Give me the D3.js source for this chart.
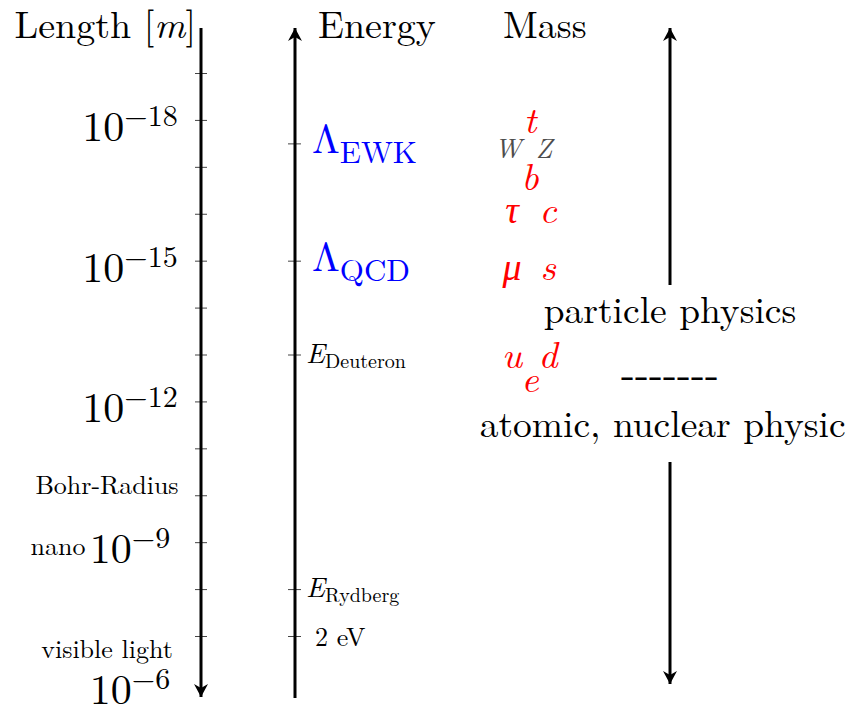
<!DOCTYPE html>
<html>
<head>
<meta charset="utf-8">
<script src="https://cdn.jsdelivr.net/npm/d3@7"></script>
<style>
  body { margin: 0; background: #fff; }
  text { font-family: "Latin Modern Roman", "Liberation Serif", serif; }
</style>
</head>
<body>
<div id="chart"></div>
<script>
// Length axis: exponents of the tick marks and of the labelled decades
var lengthTicks = [-19, -18, -17, -16, -15, -14, -13, -12, -11, -10, -9, -8, -7];
var lengthLabels = [-18, -15, -12, -9, -6];

// Notes next to the length axis, placed on the same log scale
var noteNames = ["Bohr-Radius", "nano", "visible light"];
var noteLevels = [-10.2, -8.9, -6.7];

// Energy axis ticks (in length exponent units) and their labels
var energyNames = ["EWK", "QCD", "Deuteron", "Rydberg", "2 eV"];
var energyLevels = [-17.5, -15, -13, -8, -7];

// Mass column: particle symbols, baseline level and column slot
var massNames = ["t", "W", "Z", "b", "τ", "c", "μ", "s", "u", "d", "e"];
var massLevels = [-17.72, -17.19, -17.19, -16.51, -15.8, -15.8, -14.59, -14.59, -12.71, -12.71, -12.2];
var massSlots = ["mid", "left", "right", "mid", "left", "right", "left", "right", "left", "right", "mid"];
var massKinds = ["fermion", "boson", "boson", "fermion", "fermion", "fermion", "fermion", "fermion", "fermion", "fermion", "fermion"];

var svgWidth = 845;
var svgHeight = 705;

var svg = d3.select("#chart")
    .append("svg")
    .attr("width", svgWidth)
    .attr("height", svgHeight);

// Arrow heads (stealth style)
var defs = svg.append("defs");
defs.append("marker")
    .attr("id", "head")
    .attr("viewBox", "-14 -8 16 16")
    .attr("refX", 0)
    .attr("refY", 0)
    .attr("markerWidth", 16)
    .attr("markerHeight", 16)
    .attr("markerUnits", "userSpaceOnUse")
    .attr("orient", "auto")
    .append("path")
    .attr("d", "M0,0 L-13,-7 L-9,0 L-13,7 Z")
    .attr("fill", "black");

// Shared log scale (exponent -> pixel)
var y = d3.scaleLinear()
    .domain([-19, -7])
    .range([73, 636]);

var lengthX = 201;
var energyX = 295;
var arrowX = 670;

// Mass columns
var massX = d3.scalePoint()
    .domain(["left", "mid", "right"])
    .range([512, 548]);

// ---------- Length axis ----------
var lengthAxis = d3.axisRight(y)
    .tickValues(lengthTicks)
    .tickSize(6)
    .tickSizeOuter(0)
    .tickFormat("");

var lengthG = svg.append("g")
    .attr("transform", `translate(${lengthX}, 0)`)
    .call(lengthAxis);
lengthG.select(".domain").remove();
lengthG.selectAll(".tick line")
    .attr("x1", -6)
    .attr("stroke", "#444")
    .attr("stroke-width", 1);

svg.append("line")
    .attr("x1", lengthX).attr("x2", lengthX)
    .attr("y1", 28).attr("y2", 697)
    .attr("stroke", "black")
    .attr("stroke-width", 3)
    .attr("marker-end", "url(#head)");

// 10^n labels, centred like the tikz nodes
var decade = svg.selectAll(".decade")
    .data(lengthLabels)
    .enter()
    .append("text")
    .attr("class", "decade")
    .attr("x", 130)
    .attr("y", d => y(d) + 21)
    .attr("text-anchor", "middle")
    .attr("font-size", 42);
decade.append("tspan").text("10");
decade.append("tspan")
    .attr("dy", -15)
    .attr("font-size", 30)
    .text(d => "−" + Math.abs(d));

// notes
svg.selectAll(".note")
    .data(noteNames)
    .enter()
    .append("text")
    .attr("class", "note")
    .attr("x", (d, i) => i == 1 ? 58 : 107)
    .attr("y", (d, i) => y(noteLevels[i]) + 8)
    .attr("text-anchor", "middle")
    .attr("font-size", 26)
    .text(d => d);

// ---------- Energy axis ----------
var energyAxis = d3.axisRight(y)
    .tickValues(energyLevels)
    .tickSize(6)
    .tickSizeOuter(0)
    .tickFormat("");

var energyG = svg.append("g")
    .attr("transform", `translate(${energyX}, 0)`)
    .call(energyAxis);
energyG.select(".domain").remove();
energyG.selectAll(".tick line")
    .attr("x1", -7)
    .attr("stroke", "#444")
    .attr("stroke-width", 1);

svg.append("line")
    .attr("x1", energyX).attr("x2", energyX)
    .attr("y1", 698).attr("y2", 28)
    .attr("stroke", "black")
    .attr("stroke-width", 3)
    .attr("marker-end", "url(#head)");

// energy labels
energyNames.forEach(function(name, i) {
    var ey = y(energyLevels[i]);
    if (i < 2) {
        // Lambda scales in blue
        var t = svg.append("text")
            .attr("x", 312)
            .attr("y", ey + 10)
            .attr("fill", "#0000ff")
            .attr("font-size", 40);
        t.append("tspan").text("Λ");
        t.append("tspan")
            .attr("dy", 10)
            .attr("font-size", 31)
            .text(name);
    } else if (name == "2 eV") {
        svg.append("text")
            .attr("x", 315)
            .attr("y", ey + 10)
            .attr("font-size", 26)
            .text(name);
    } else {
        var e = svg.append("text")
            .attr("x", 306)
            .attr("y", ey + 8)
            .attr("font-size", 28);
        e.append("tspan").attr("font-style", "italic").text("E");
        e.append("tspan")
            .attr("dy", 5)
            .attr("font-size", 20)
            .text(name);
    }
});

// ---------- Headers ----------
var lenHead = svg.append("text")
    .attr("x", 196)
    .attr("y", 38)
    .attr("text-anchor", "end")
    .attr("font-size", 38);
lenHead.append("tspan").text("Length [");
lenHead.append("tspan").attr("font-style", "italic").text("m");
lenHead.append("tspan").text("]");

svg.append("text")
    .attr("x", 318).attr("y", 38)
    .attr("font-size", 38)
    .text("Energy");

svg.append("text")
    .attr("x", 503).attr("y", 38)
    .attr("font-size", 38)
    .text("Mass");

// ---------- Mass symbols ----------
svg.selectAll(".mass")
    .data(massNames)
    .enter()
    .append("text")
    .attr("class", "mass")
    .attr("x", (d, i) => massX(massSlots[i]) + (massKinds[i] == "boson" ? -4 : 0))
    .attr("y", (d, i) => y(massLevels[i]))
    .attr("text-anchor", "middle")
    .attr("font-style", "italic")
    .attr("font-size", (d, i) => massKinds[i] == "boson" ? 27 : 38)
    .attr("fill", (d, i) => massKinds[i] == "boson" ? "#4d4d4d" : "#ff0000")
    .text(d => d);

// ---------- Regime arrows ----------
svg.append("line")
    .attr("x1", arrowX).attr("x2", arrowX)
    .attr("y1", 285).attr("y2", 28)
    .attr("stroke", "black")
    .attr("stroke-width", 3)
    .attr("marker-end", "url(#head)");

svg.append("line")
    .attr("x1", arrowX).attr("x2", arrowX)
    .attr("y1", 462).attr("y2", 684)
    .attr("stroke", "black")
    .attr("stroke-width", 3)
    .attr("marker-end", "url(#head)");

var regimeText = ["particle physics", "-------", "atomic, nuclear physics"];
var regimeY = [323, 388, 437];
svg.selectAll(".regime")
    .data(regimeText)
    .enter()
    .append("text")
    .attr("class", "regime")
    .attr("x", arrowX)
    .attr("y", (d, i) => regimeY[i])
    .attr("text-anchor", "middle")
    .attr("font-size", (d, i) => i == 1 ? 42 : 37.5)
    .text(d => d);
</script>
</body>
</html>
